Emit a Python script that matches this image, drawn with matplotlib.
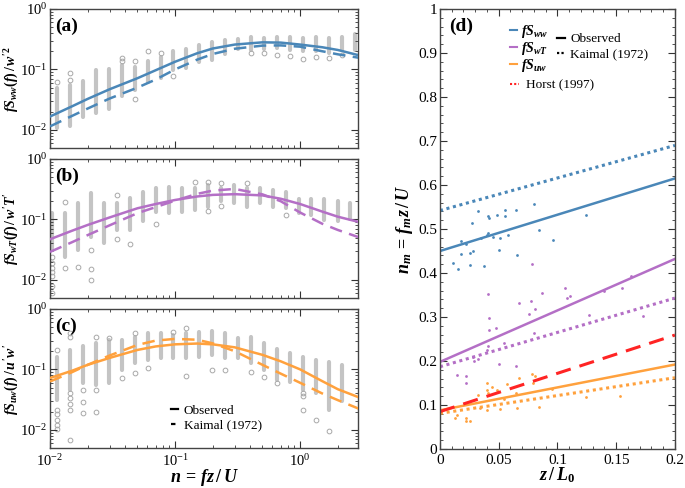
import numpy as np
import matplotlib
matplotlib.use('Agg')
import matplotlib.pyplot as plt
from matplotlib.lines import Line2D

plt.rcParams['font.family'] = 'serif'
plt.rcParams['font.serif'] = ['Liberation Serif', 'DejaVu Serif']
plt.rcParams['mathtext.fontset'] = 'custom'
plt.rcParams['mathtext.it'] = 'Liberation Serif:italic:bold'
plt.rcParams['mathtext.rm'] = 'Liberation Serif:bold'
plt.rcParams['mathtext.bf'] = 'Liberation Serif:bold'

blue = '#4a87b8'
purple = '#b46fc6'
orange = '#ffa13d'
red = '#ff2424'

# spectra bin centres (n = fz/U)
n_a = [0.0114, 0.0144, 0.0183, 0.0232, 0.0295, 0.0374, 0.0475, 0.0603, 0.0765, 0.0971,
       0.123, 0.156, 0.199, 0.252, 0.320, 0.406, 0.515, 0.653, 0.829, 1.05,
       1.34, 1.69, 2.15, 2.73]
n_b = [0.0104, 0.0132, 0.0167, 0.0212, 0.0270, 0.0343, 0.0435, 0.0553, 0.0702, 0.0891,
       0.113, 0.144, 0.182, 0.232, 0.294, 0.374, 0.474, 0.602, 0.765, 0.971,
       1.23, 1.56, 1.99, 2.52]

# (a) w spectra: dense range and scattered points per bin
a_lo = [0.0106, 0.0116, 0.0162, 0.019, 0.022, 0.036, 0.046, 0.063, 0.072, 0.098, 0.105, 0.135,
        0.144, 0.18, 0.215, 0.21, 0.22, 0.23, 0.21, 0.2, 0.2, 0.19, 0.21, 0.21]
a_hi = [0.049, 0.055, 0.064, 0.096, 0.10, 0.118, 0.111, 0.138, 0.16, 0.205, 0.22, 0.25,
        0.28, 0.31, 0.32, 0.34, 0.33, 0.34, 0.34, 0.33, 0.34, 0.33, 0.34, 0.39]
a_out = [[0.062], [0.088, 0.067], [], [], [], [0.152, 0.137], [0.14, 0.033], [0.2], [0.19], [0.078],
         [], [], [], [], [], [0.19], [0.19], [0.175], [0.168], [0.15], [0.16], [0.153], [0.172], []]

# (b) wT cospectra
b_lo = [0.031, 0.024, 0.031, 0.052, 0.04, 0.067, 0.067, 0.093, 0.134, 0.126, 0.134, 0.144,
        0.16, 0.2, 0.185, 0.16, 0.185, 0.16, 0.155, 0.126, 0.119, 0.098, 0.093, 0.1]
b_hi = [0.126, 0.126, 0.185, 0.27, 0.185, 0.185, 0.23, 0.28, 0.33, 0.35, 0.33, 0.33,
        0.37, 0.33, 0.37, 0.33, 0.33, 0.31, 0.29, 0.22, 0.215, 0.22, 0.2, 0.19]
b_out = [[0.024, 0.019, 0.0155, 0.0135, 0.0115, 0.0078, 0.006], [0.197, 0.0155], [0.0166],
         [0.031, 0.015, 0.0101], [], [0.25, 0.047], [0.039], [], [0.085], [], [], [0.41],
         [0.41, 0.138], [0.4, 0.17], [], [0.4], [], [], [0.119], [], [], [], [], []]

# (c) uw cospectra
c_lo = [0.031, 0.046, 0.059, 0.055, 0.059, 0.098, 0.126, 0.144, 0.153, 0.153, 0.153, 0.163,
        0.17, 0.153, 0.153, 0.126, 0.098, 0.067, 0.063, 0.046, 0.04, 0.0215, 0.03]
c_hi = [0.163, 0.21, 0.24, 0.27, 0.31, 0.31, 0.35, 0.4, 0.4, 0.37, 0.4, 0.42,
        0.44, 0.4, 0.33, 0.35, 0.27, 0.22, 0.185, 0.163, 0.144, 0.134, 0.12]
c_out = [[0.21, 0.0215, 0.018, 0.0145, 0.012, 0.0104], [0.4, 0.35, 0.04, 0.033, 0.027, 0.0215, 0.0069],
         [0.046, 0.029, 0.019], [0.35, 0.046, 0.0196], [0.33], [0.072], [0.4, 0.087], [0.105], [],
         [0.42], [0.48, 0.078], [], [0.098], [0.098], [], [0.092], [0.076], [0.059], [],
         [0.04, 0.036, 0.0215], [0.0147], [0.0094], []]

# fitted curves (observed) and Kaimal (1972)
n_fit = [0.01, 0.015, 0.02, 0.03, 0.05, 0.07, 0.1, 0.15, 0.2, 0.3, 0.5, 0.7, 1.0, 1.5, 2.0, 3.0]
a_obs = [0.0166, 0.0245, 0.0325, 0.047, 0.0715, 0.097, 0.134, 0.185, 0.222, 0.258, 0.281, 0.278,
         0.258, 0.233, 0.21, 0.17]
a_kai = [0.0114, 0.017, 0.0225, 0.033, 0.05, 0.068, 0.1, 0.145, 0.18, 0.22, 0.248, 0.25,
         0.238, 0.2, 0.178, 0.155]
b_obs = [0.047, 0.065, 0.081, 0.108, 0.153, 0.18, 0.21, 0.24, 0.255, 0.262, 0.25, 0.22,
         0.18, 0.135, 0.111, 0.09]
b_kai = [0.029, 0.042, 0.055, 0.08, 0.127, 0.16, 0.205, 0.265, 0.30, 0.32, 0.26, 0.2,
         0.13, 0.085, 0.067, 0.05]
c_obs = [0.072, 0.095, 0.119, 0.155, 0.21, 0.24, 0.26, 0.268, 0.26, 0.232, 0.174, 0.136,
         0.1, 0.064, 0.047, 0.034]
c_kai = [0.063, 0.09, 0.119, 0.17, 0.254, 0.3, 0.32, 0.31, 0.27, 0.2, 0.119, 0.085,
         0.06, 0.04, 0.031, 0.022]

# (d) peak frequency vs stability
zL_ww = [0.0113, 0.0156, 0.0176, 0.0176, 0.0218, 0.0252, 0.0252, 0.027, 0.0284, 0.0326, 0.0346,
         0.0377, 0.0403, 0.0411, 0.0411, 0.042, 0.0448, 0.0482, 0.0499, 0.0511, 0.0553, 0.0553,
         0.0576, 0.0647, 0.0658, 0.0803, 0.0843, 0.0959, 0.124]
nm_ww = [0.422, 0.408, 0.472, 0.444, 0.465, 0.446, 0.418, 0.513, 0.450, 0.541, 0.480,
         0.417, 0.487, 0.529, 0.490, 0.525, 0.482, 0.532, 0.452, 0.480, 0.544, 0.530,
         0.487, 0.544, 0.441, 0.557, 0.497, 0.474, 0.532]
zL_wT = [0.0406, 0.042, 0.078, 0.0675, 0.0775, 0.081, 0.076, 0.0865, 0.106, 0.108, 0.111, 0.127,
         0.14, 0.155, 0.163, 0.173, 0.0417, 0.048, 0.080, 0.0545, 0.0406, 0.0403, 0.029, 0.0284,
         0.0326, 0.0502, 0.0647, 0.0142, 0.022, 0.022]
nm_wT = [0.352, 0.297, 0.420, 0.332, 0.337, 0.318, 0.307, 0.354, 0.365, 0.344, 0.348, 0.305,
         0.36, 0.367, 0.393, 0.303, 0.271, 0.275, 0.264, 0.242, 0.233, 0.226, 0.199, 0.21,
         0.204, 0.194, 0.188, 0.169, 0.165, 0.15]
zL_uw = [0.0128, 0.0147, 0.022, 0.022, 0.0255, 0.0326, 0.034, 0.0403, 0.0403, 0.0411, 0.0403,
         0.044, 0.0482, 0.0511, 0.0545, 0.0567, 0.0647, 0.0658, 0.0675, 0.078, 0.0794, 0.0809,
         0.0845, 0.0956, 0.124, 0.153]
nm_uw = [0.070, 0.077, 0.070, 0.0645, 0.0645, 0.123, 0.093, 0.15, 0.134, 0.128, 0.089,
         0.14, 0.133, 0.090, 0.114, 0.148, 0.127, 0.093, 0.162, 0.171, 0.150, 0.166,
         0.095, 0.136, 0.119, 0.121]

zL_line = [0.0, 0.2]
ww_obs = [0.45, 0.615]
ww_kai = [0.542, 0.69]
wT_obs = [0.198, 0.432]
wT_kai = [0.187, 0.343]
uw_obs = [0.088, 0.192]
uw_kai = [0.081, 0.162]
horst = [0.085, 0.259]

fig = plt.figure(figsize=(6.85, 4.88), dpi=100)
axa = fig.add_axes([0.073, 0.6967, 0.4496, 0.2848])
axb = fig.add_axes([0.073, 0.3893, 0.4496, 0.2848])
axc = fig.add_axes([0.073, 0.082, 0.4496, 0.2848])
axd = fig.add_axes([0.6423, 0.0799, 0.343, 0.9016])


def style(ax, size=11):
    ax.tick_params(which='both', direction='in', top=True, right=True, labelsize=size, color='#333333')
    ax.tick_params(which='major', length=5)
    ax.tick_params(which='minor', length=2.5)
    ax.tick_params(axis='y', pad=2)
    for s in ax.spines.values():
        s.set_color('#444444')
        s.set_linewidth(1.0)


def spec_panel(ax, n, lo, hi, out, obs, kai, color, ylabel, tag):
    ax.vlines(n[:len(lo)], lo, hi, color='#c4c4c4', lw=3.0, capstyle='round', zorder=1)
    for x, vals in zip(n, out):
        ax.plot([x] * len(vals), vals, 'o', ms=3.4, mfc='none', mec='#a8a8a8', mew=0.7, zorder=1)
    ax.plot(n_fit, obs, color=color, lw=1.8, zorder=3)
    ax.plot(n_fit, kai, color=color, lw=1.8, dashes=(5, 3), zorder=3)
    ax.set_xscale('log')
    ax.set_yscale('log')
    ax.set_xlim(0.01, 2.9)
    ax.set_ylim(0.005, 1)
    ax.set_ylabel(ylabel, fontsize=10)
    ax.yaxis.set_label_coords(-0.096, 0.5)
    ax.text(0.016, 0.94, tag, transform=ax.transAxes, fontsize=14, fontweight='bold', va='top')
    style(ax, 10.5)


spec_panel(axa, n_a, a_lo, a_hi, a_out, a_obs, a_kai, blue, r"$fS_{ww}(f)\,/\,\overline{w^{\prime 2}}$", '(a)')
spec_panel(axb, n_b, b_lo, b_hi, b_out, b_obs, b_kai, purple, r"$fS_{wT}(f)\,/\,\overline{w^{\prime}T^{\prime}}$", '(b)')
spec_panel(axc, n_a, c_lo, c_hi, c_out, c_obs, c_kai, orange, r"$fS_{uw}(f)\,/\,\overline{u^{\prime}w^{\prime}}$", '(c)')
axa.tick_params(labelbottom=False)
axb.tick_params(labelbottom=False)
axc.set_xlabel(r'$n\,=\,fz\,/\,U$', fontsize=13, labelpad=-1)

h = [Line2D([], [], color='k', lw=1.6), Line2D([], [], color='k', lw=1.6, dashes=(2, 1.5))]
axc.legend(h, ['Observed', 'Kaimal (1972)'], loc='upper left', bbox_to_anchor=(0.37, 0.36),
           frameon=False, fontsize=9.5, handlelength=0.6, handletextpad=0.4, labelspacing=0.2,
           borderpad=0)

# panel (d)
axd.plot(zL_ww, nm_ww, 'o', ms=2.0, color=blue, mew=0)
axd.plot(zL_wT, nm_wT, 'o', ms=2.0, color=purple, mew=0)
axd.plot(zL_uw, nm_uw, 'o', ms=2.0, color=orange, mew=0)
axd.plot(zL_line, ww_obs, color=blue, lw=1.8)
axd.plot(zL_line, ww_kai, color=blue, lw=2.2, dashes=(1, 1.2))
axd.plot(zL_line, wT_obs, color=purple, lw=1.8)
axd.plot(zL_line, wT_kai, color=purple, lw=2.2, dashes=(1, 1.2))
axd.plot(zL_line, uw_obs, color=orange, lw=1.8)
axd.plot(zL_line, uw_kai, color=orange, lw=2.2, dashes=(1, 1.2))
axd.plot(zL_line, horst, color=red, lw=2.2, dashes=(5, 3))
axd.set_xlim(0, 0.2)
axd.set_ylim(0, 1)
axd.set_xticks([0, 0.05, 0.1, 0.15, 0.2])
axd.set_xticklabels(['0', '0.05', '0.1', '0.15', '0.2'])
axd.set_yticks(np.arange(0, 1.01, 0.1))
axd.set_yticklabels(['0', '0.1', '0.2', '0.3', '0.4', '0.5', '0.6', '0.7', '0.8', '0.9', '1'])
axd.set_xticks(np.arange(0, 0.201, 0.01), minor=True)
axd.set_yticks(np.arange(0, 1.001, 0.02), minor=True)
axd.set_xlabel(r'$z\,/\,L_0$', fontsize=13, labelpad=-1)
axd.set_ylabel(r'$n_m\,=\,f_m z\,/\,U$', fontsize=13, labelpad=2)
axd.text(0.04, 0.98, '(d)', transform=axd.transAxes, fontsize=14, fontweight='bold', va='top')
style(axd)

h1 = [Line2D([], [], color=c, lw=1.5) for c in (blue, purple, orange)]
leg1 = axd.legend(h1, [r'$fS_{ww}$', r'$fS_{wT}$', r'$fS_{uw}$'], loc='upper left',
                  bbox_to_anchor=(0.27, 0.985), frameon=False, fontsize=10, handlelength=0.5,
                  handletextpad=0.3, labelspacing=0.0, borderpad=0)
axd.add_artist(leg1)
h2 = [Line2D([], [], color='k', lw=1.6), Line2D([], [], color='k', lw=1.6, dashes=(1, 1))]
leg2 = axd.legend(h2, ['Observed', 'Kaimal (1972)'], loc='upper left', bbox_to_anchor=(0.47, 0.96),
                  frameon=False, fontsize=9.5, handlelength=0.6, handletextpad=0.4,
                  labelspacing=0.2, borderpad=0)
axd.add_artist(leg2)
h3 = [Line2D([], [], color=red, lw=1.5, dashes=(1, 1))]
axd.legend(h3, ['Horst (1997)'], loc='upper left', bbox_to_anchor=(0.27, 0.855), frameon=False,
           fontsize=9.5, handlelength=0.7, handletextpad=0.5, borderpad=0)

fig.savefig('out.png', dpi=100)
